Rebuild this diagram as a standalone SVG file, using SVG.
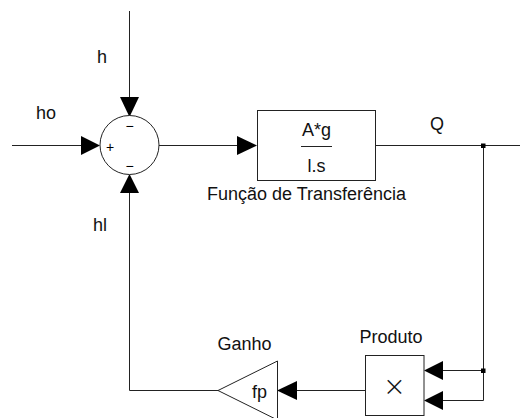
<svg xmlns="http://www.w3.org/2000/svg" width="530" height="418" viewBox="0 0 530 418">
<style>
.ln{fill:none;stroke:#222;stroke-width:1}
.bx{fill:#fff;stroke:#222;stroke-width:1}
.ah{fill:#000;stroke:none}
.t{font-family:"Liberation Sans",Arial,sans-serif;font-size:18px;fill:#111}
.s{font-family:"Liberation Sans",Arial,sans-serif;font-size:14px;fill:#000}
.x{font-family:Inter,"Open Sans","Liberation Sans",sans-serif;font-size:33px;font-weight:200;fill:#111}
</style>
<rect width="530" height="418" fill="#fff"/>
<g id="connectors">
<path class="ln" d="M129.5,11 V97"/>
<path class="ln" d="M12,145.5 H81"/>
<path class="ln" d="M159,145.5 H237"/>
<path class="ln" d="M376,145.5 H520"/>
<path class="ln" d="M483.5,145.5 V400.5 H443"/>
<path class="ln" d="M483.5,370.5 H443"/>
<path class="ln" d="M365,390.5 H297"/>
<path class="ln" d="M218,390.5 H129.5 V193"/>
<polygon class="ah" points="120,97 139,97 129.5,117"/>
<polygon class="ah" points="81,136 81,155 100,145.5"/>
<polygon class="ah" points="237,136 237,155 257,145.5"/>
<polygon class="ah" points="120,193 139,193 129.5,174"/>
<polygon class="ah" points="297,381 297,400 277,390.5"/>
<polygon class="ah" points="443,361 443,380 424,370.5"/>
<polygon class="ah" points="443,391 443,410 424,400.5"/>
<rect x="481" y="143.5" width="4.5" height="4.5" fill="#000"/>
<rect x="481" y="368.5" width="4.5" height="4.5" fill="#000"/>
</g>
<g id="labels">
<text class="t" x="97" y="63">h</text>
<text class="t" x="36" y="119">ho</text>
<text class="t" x="93" y="231">hl</text>
<text class="t" x="430" y="130">Q</text>
</g>
<g id="sum">
<circle class="bx" cx="129.5" cy="145" r="29.5"/>
<text class="s" x="129.5" y="131" text-anchor="middle">−</text>
<text class="s" x="110" y="151.5" text-anchor="middle">+</text>
<text class="s" x="129.5" y="171" text-anchor="middle">−</text>
</g>
<g id="transfer">
<rect class="bx" x="257.5" y="110.5" width="118" height="70"/>
<text class="t" x="316.5" y="136" text-anchor="middle">A*g</text>
<path class="ln" d="M301,146.5 H332"/>
<text class="t" x="316.5" y="171.5" text-anchor="middle">l.s</text>
<text class="t" x="306.5" y="200" text-anchor="middle">Função de Transferência</text>
</g>
<g id="gain">
<polygon class="bx" points="218,390.5 277.5,361 277.5,420"/>
<text class="t" x="259.5" y="398" text-anchor="middle">fp</text>
<text class="t" x="244.5" y="350" text-anchor="middle">Ganho</text>
</g>
<g id="product">
<rect class="bx" x="365.5" y="355.5" width="58.5" height="60"/>
<text class="x" x="394.5" y="396" text-anchor="middle">×</text>
<text class="t" x="391" y="343" text-anchor="middle">Produto</text>
</g>
</svg>
